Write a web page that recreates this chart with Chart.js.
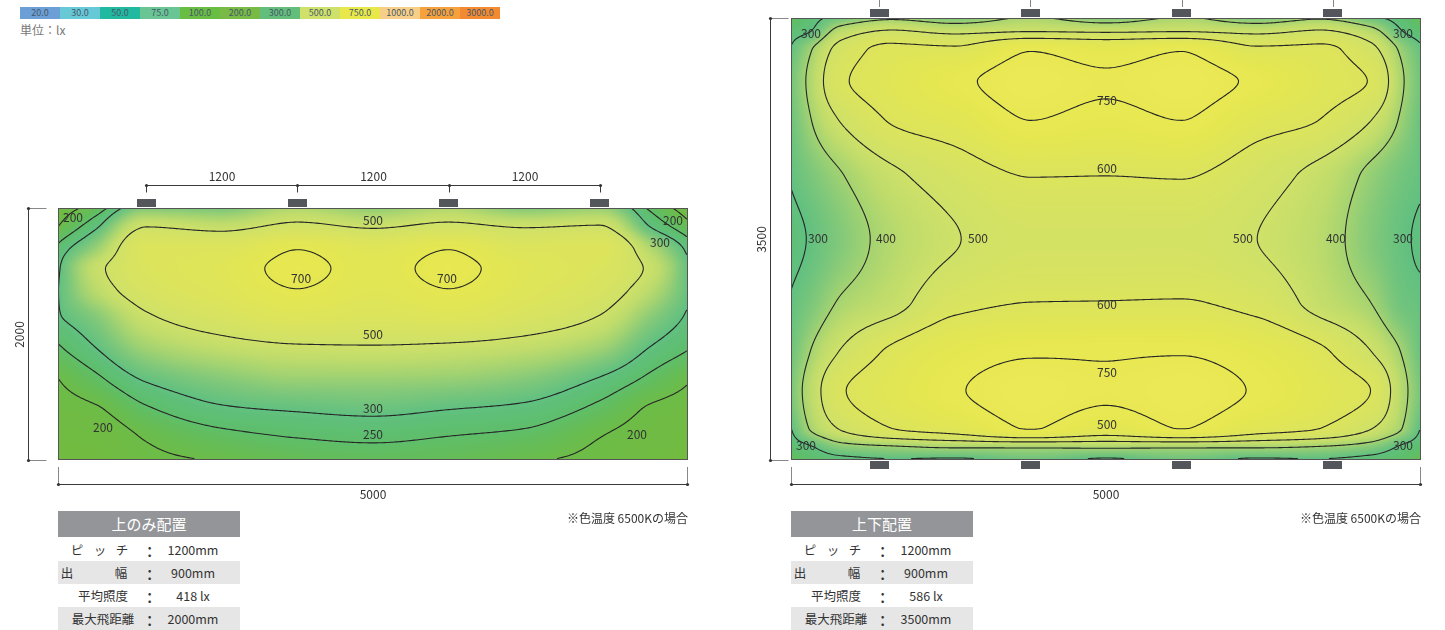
<!DOCTYPE html>
<html><head><meta charset="utf-8">
<script src="https://cdn.jsdelivr.net/npm/chart.js"></script>
<style>
body{margin:0;background:#fff;width:1445px;height:630px;overflow:hidden;position:relative;font-family:"Noto Sans CJK JP","Noto Sans",sans-serif;color:#333;}
.abs{position:absolute;}
canvas{position:absolute;}
.lg{width:40px;height:12px;font-size:9px;line-height:12px;text-align:center;color:#44586a;}
.th{position:absolute;width:182px;height:26px;background:#939598;color:#fff;font-size:15px;line-height:26px;text-align:center;}
.tr{position:absolute;width:182px;height:23px;font-size:12.5px;line-height:23px;}
.tr span{position:absolute;white-space:nowrap;top:0;}
.note{position:absolute;font-size:12px;white-space:nowrap;}
</style></head><body>
<div id="legend" class="abs" style="left:20px;top:7px;display:flex"></div>
<div class="abs" style="left:20px;top:21px;font-size:12px;color:#777">単位：lx</div>
<canvas id="cA" style="left:0;top:150px" width="720" height="360"></canvas>
<canvas id="cB" style="left:735px;top:0" width="710" height="510"></canvas>
<div id="tabA"></div><div id="tabB"></div>
<div class="note" style="right:757px;top:509px">※色温度 6500Kの場合</div>
<div class="note" style="right:24px;top:509px">※色温度 6500Kの場合</div>
<script>
// ---------- data ----------
const legendLabels = ['20.0','30.0','50.0','75.0','100.0','200.0','300.0','500.0','750.0','1000.0','2000.0','3000.0'];
const legendColors = ['#6c9fd6','#67c8d6','#21b9a0','#69c593','#6abd43','#78ba45','#64be7b','#cfe16b','#e9e84b','#f7cf88','#f7a13c','#f38a32'];

const roomW = 5000;
const roomDA = 2000, roomDB = 3500;
const lumX = [700, 1900, 3100, 4300];

// Chart A (上のみ配置): illuminance grid (lx), rows = gridYA, cols = gridXA
const gridXA = [0, 300, 700, 1300, 1900, 2500, 3100, 3700, 4300, 4700, 5000];
const gridYA = [0, 150, 330, 480, 650, 850, 1100, 1350, 1600, 1800, 2000];
const illumA = [
  [175, 222, 350, 340, 420, 370, 420, 350, 380, 240, 175],
  [200, 290, 500, 470, 530, 490, 530, 495, 510, 300, 215],
  [265, 390, 600, 610, 700, 640, 700, 610, 610, 430, 285],
  [290, 470, 590, 645, 725, 665, 725, 645, 590, 480, 310],
  [298, 440, 560, 630, 698, 650, 698, 630, 560, 440, 310],
  [295, 360, 490, 570, 630, 600, 630, 575, 500, 370, 292],
  [245, 302, 400, 460, 490, 495, 485, 460, 400, 300, 255],
  [200, 240, 310, 360, 390, 390, 385, 360, 297, 240, 205],
  [185, 195, 242, 290, 305, 315, 300, 285, 235, 195, 185],
  [178, 180, 205, 238, 255, 262, 252, 240, 202, 185, 178],
  [172, 175, 190, 203, 220, 228, 222, 205, 190, 178, 172]
];
const levelsA = [200, 250, 300, 500, 700];

// Chart B (上下配置)
const gridXB = [0, 150, 400, 800, 1300, 1900, 2500, 3100, 3700, 4200, 4600, 4850, 5000];
const gridYB = [0, 100, 250, 500, 800, 1250, 1750, 2250, 2650, 2950, 3250, 3400, 3500];
const illumB = [
  [220, 270, 330, 385, 345, 410, 350, 410, 345, 390, 320, 265, 215],
  [265, 295, 440, 505, 470, 490, 480, 490, 470, 505, 430, 300, 255],
  [305, 390, 540, 625, 620, 745, 700, 745, 620, 620, 530, 380, 310],
  [330, 420, 585, 650, 725, 790, 762, 790, 730, 640, 595, 410, 325],
  [320, 395, 510, 610, 660, 752, 722, 752, 650, 600, 505, 385, 315],
  [305, 340, 395, 480, 545, 602, 600, 605, 540, 470, 380, 330, 308],
  [280, 305, 355, 430, 495, 540, 540, 540, 500, 440, 355, 310, 290],
  [305, 340, 410, 465, 570, 600, 602, 605, 565, 465, 400, 325, 310],
  [320, 400, 510, 620, 700, 740, 742, 745, 700, 620, 505, 395, 315],
  [340, 440, 590, 660, 740, 790, 765, 790, 740, 660, 600, 430, 335],
  [298, 405, 510, 600, 650, 755, 675, 752, 650, 600, 505, 400, 295],
  [260, 290, 360, 385, 405, 405, 410, 405, 405, 390, 355, 285, 255],
  [220, 250, 270, 290, 280, 320, 280, 320, 280, 290, 265, 245, 215]
];
const levelsB = [300, 400, 500, 600, 750];

// contour label texts with their placement (mm)
const contourLabelsA = [['200',119,71],['500',2500,95],['200',4881,95],['300',4778,270],['700',1929,556],['700',3087,556],['500',2500,1000],['300',2500,1587],['250',2500,1794],['200',357,1738],['200',4595,1794]];
const contourLabelsB = [['300',159,119],['300',4857,119],['750',2508,649],['600',2508,1188],['300',214,1742],['400',754,1742],['500',1484,1742],['500',3587,1742],['400',4325,1742],['300',4857,1742],['600',2508,2272],['750',2508,2803],['500',2508,3215],['300',119,3381],['300',4857,3381]];

const tableTitleA = '上のみ配置', tableTitleB = '上下配置';
const tableKeys = [['ピ','ッ','チ'], ['出','幅'], ['平均照度'], ['最大飛距離']];
const tableValsA = ['1200mm', '900mm', '418 lx', '2000mm'];
const tableValsB = ['1200mm', '900mm', '586 lx', '3500mm'];

// ---------- helpers ----------
const FONT = '"Noto Sans CJK JP","Noto Sans",sans-serif';
const lg = document.getElementById('legend');
legendLabels.forEach((t,i)=>{const d=document.createElement('div');d.className='lg';d.style.background=legendColors[i];d.textContent=t;lg.appendChild(d);});

function buildTable(el, left, title, vals){
  const keyPos = [[19, 42, 64], [9, 63], [45], [45]];
  let h = `<div class="th" style="left:${left}px;top:511px">${title}</div>`;
  vals.forEach((v,i)=>{
    const bg = (i%2===1)?'#e6e6e6':'#fff';
    let keys = '';
    tableKeys[i].forEach((k,q)=>{ keys += `<span style="left:${keyPos[i][q]-40}px;width:80px;text-align:center">${k}</span>`; });
    h += `<div class="tr" style="left:${left}px;top:${538+i*23}px;background:${bg}">${keys}<span style="left:89px;font-size:19px;line-height:21px">:</span><span style="left:100px;width:70px;text-align:center">${v}</span></div>`;
  });
  el.innerHTML = h;
}
buildTable(document.getElementById('tabA'), 58, tableTitleA, tableValsA);
buildTable(document.getElementById('tabB'), 791, tableTitleB, tableValsB);

function tangent(xs, vs, k){
  const n = xs.length;
  if (k === 0) return (vs[1]-vs[0])/(xs[1]-xs[0]);
  if (k === n-1) return (vs[n-1]-vs[n-2])/(xs[n-1]-xs[n-2]);
  const h0 = xs[k]-xs[k-1], h1 = xs[k+1]-xs[k];
  const d0 = (vs[k]-vs[k-1])/h0, d1 = (vs[k+1]-vs[k])/h1;
  if (d0*d1 <= 0) return 0;
  const w1 = 2*h1+h0, w2 = h1+2*h0;
  return (w1+w2)/(w1/d0 + w2/d1);
}
function pchip(xs, vs, x){
  const n = xs.length;
  if (x <= xs[0]) return vs[0];
  if (x >= xs[n-1]) return vs[n-1];
  let k = 0; while (k < n-2 && x > xs[k+1]) k++;
  const h = xs[k+1]-xs[k], t = (x-xs[k])/h;
  const m0 = tangent(xs,vs,k), m1 = tangent(xs,vs,k+1);
  const t2=t*t, t3=t2*t;
  return (2*t3-3*t2+1)*vs[k] + (t3-2*t2+t)*h*m0 + (-2*t3+3*t2)*vs[k+1] + (t3-t2)*h*m1;
}
const stops = [[150,[118,186,58]],[200,[108,188,72]],[250,[94,190,106]],[300,[96,192,128]],[350,[128,200,122]],[400,[164,211,113]],[450,[192,220,107]],[500,[207,225,104]],[600,[220,228,92]],[700,[229,231,80]],[800,[236,233,86]]];
const LUT = [];
for (let v=0; v<=1000; v++){
  let c;
  if (v <= stops[0][0]) c = stops[0][1];
  else if (v >= stops[stops.length-1][0]) c = stops[stops.length-1][1];
  else { let i=0; while (v > stops[i+1][0]) i++;
    const t=(v-stops[i][0])/(stops[i+1][0]-stops[i][0]);
    c = [0,1,2].map(q=>stops[i][1][q]+(stops[i+1][1][q]-stops[i][1][q])*t); }
  LUT.push(c);
}
function contourPaths(F, W, H, s, L){
  const nx = Math.floor((W-1)/s), ny = Math.floor((H-1)/s);
  const pts = new Map(), adj = new Map();
  const hk = (j,i)=>(j*(nx+1)+i)*2, vk = (j,i)=>(j*(nx+1)+i)*2+1;
  function link(k1,p1,k2,p2){
    pts.set(k1,p1); pts.set(k2,p2);
    if(!adj.has(k1)) adj.set(k1,[]); if(!adj.has(k2)) adj.set(k2,[]);
    adj.get(k1).push(k2); adj.get(k2).push(k1);
  }
  for (let j=0;j<ny;j++) for (let i=0;i<nx;i++){
    const x0=i*s, y0=j*s, x1=x0+s, y1=y0+s;
    const a=F[y0*W+x0], b=F[y0*W+x1], c=F[y1*W+x1], d=F[y1*W+x0];
    const idx=(a>L?8:0)|(b>L?4:0)|(c>L?2:0)|(d>L?1:0);
    if (idx===0||idx===15) continue;
    const E = {
      T:[hk(j,i),   ()=>[x0+s*(L-a)/(b-a), y0]],
      B:[hk(j+1,i), ()=>[x0+s*(L-d)/(c-d), y1]],
      Lf:[vk(j,i),  ()=>[x0, y0+s*(L-a)/(d-a)]],
      R:[vk(j,i+1), ()=>[x1, y0+s*(L-b)/(c-b)]]
    };
    const pairs=[];
    switch(idx){
      case 1: case 14: pairs.push(['Lf','B']); break;
      case 2: case 13: pairs.push(['B','R']); break;
      case 3: case 12: pairs.push(['Lf','R']); break;
      case 4: case 11: pairs.push(['T','R']); break;
      case 6: case 9: pairs.push(['T','B']); break;
      case 7: case 8: pairs.push(['Lf','T']); break;
      case 5: case 10: {
        const cen=(a+b+c+d)/4;
        if ((idx===5) === (cen>L)) { pairs.push(['Lf','T']); pairs.push(['B','R']); }
        else { pairs.push(['Lf','B']); pairs.push(['T','R']); }
        break; }
    }
    pairs.forEach(p=>link(E[p[0]][0],E[p[0]][1](),E[p[1]][0],E[p[1]][1]()));
  }
  const used=new Set(), paths=[];
  function walk(start){
    const path=[pts.get(start)]; used.add(start); let cur=start;
    for(;;){ const nb=adj.get(cur).filter(n=>!used.has(n)); if(!nb.length) break;
      cur=nb[0]; used.add(cur); path.push(pts.get(cur)); }
    return path;
  }
  for (const [k,n] of adj) if (n.length===1 && !used.has(k)) paths.push(walk(k));
  for (const k of adj.keys()) if (!used.has(k)) { const p=walk(k); p.push(p[0]); paths.push(p); }
  return paths;
}
function heatPlugin(gx, gy, grid, levels, labels){
  return { id:'heat', beforeDatasetsDraw(chart){
    const ctx=chart.ctx, ca=chart.chartArea, sx=chart.scales.x, sy=chart.scales.y;
    const L=Math.round(ca.left), T=Math.round(ca.top), W=Math.round(ca.right)-L, H=Math.round(ca.bottom)-T;
    const F=new Float32Array(W*H), colVals=new Array(gy.length);
    for (let i=0;i<W;i++){
      const xm=sx.getValueForPixel(L+i+0.5);
      for (let j=0;j<gy.length;j++) colVals[j]=pchip(gx,grid[j],xm);
      for (let k=0;k<H;k++){ F[k*W+i]=pchip(gy,colVals,sy.getValueForPixel(T+k+0.5)); }
    }
    const off=document.createElement('canvas'); off.width=W; off.height=H;
    const octx=off.getContext('2d'), img=octx.createImageData(W,H);
    for (let p=0;p<W*H;p++){ const c=LUT[Math.max(0,Math.min(1000,Math.round(F[p])))];
      img.data[p*4]=c[0]; img.data[p*4+1]=c[1]; img.data[p*4+2]=c[2]; img.data[p*4+3]=255; }
    octx.putImageData(img,0,0);
    ctx.drawImage(off,L,T);
    ctx.save();
    ctx.beginPath(); ctx.rect(L,T,W,H); ctx.clip();
    ctx.strokeStyle='#262626'; ctx.lineWidth=1.1; ctx.lineJoin='round'; ctx.lineCap='round';
    levels.forEach(lv=>{
      const paths=contourPaths(F,W,H,2,lv);
      ctx.beginPath();
      paths.forEach(p=>{ ctx.moveTo(L+p[0][0]+0.5,T+p[0][1]+0.5);
        for (let q=1;q<p.length;q++) ctx.lineTo(L+p[q][0]+0.5,T+p[q][1]+0.5); });
      ctx.stroke(); });
    ctx.fillStyle='#333'; ctx.font='12px '+FONT; ctx.textAlign='center'; ctx.textBaseline='middle';
    labels.forEach(l=>ctx.fillText(l[0], sx.getPixelForValue(l[1]), sy.getPixelForValue(l[2])));
    ctx.restore();
    ctx.save(); ctx.strokeStyle='#555'; ctx.lineWidth=1;
    ctx.strokeRect(L+0.5,T+0.5,W-1,H-1); ctx.restore();
  }};
}
function lumImage(top){
  const c=document.createElement('canvas'); c.width=19; c.height=18;
  const g=c.getContext('2d'); g.fillStyle='#53575b';
  g.fillRect(0, top?0:10, 19, 8); return c;
}
function dot(ctx,x,y){ctx.beginPath();ctx.arc(x,y,1.6,0,Math.PI*2);ctx.fill();}
function dimPlugin(which, depth){
  return { id:'dims', afterDraw(chart){
    const ctx=chart.ctx, ca=chart.chartArea, sx=chart.scales.x, sy=chart.scales.y;
    ctx.save(); ctx.strokeStyle='#3a3a3a'; ctx.fillStyle='#333'; ctx.lineWidth=1;
    ctx.font='12px '+FONT; ctx.textAlign='center'; ctx.textBaseline='middle';
    const px = lumX.map(v=>Math.round(sx.getPixelForValue(v))+0.5);
    if (which==='A'){
      const y=Math.round(ca.top)-23+0.5;
      ctx.beginPath(); ctx.moveTo(px[0],y); ctx.lineTo(px[px.length-1],y);
      px.forEach(x=>{ctx.moveTo(x,y);ctx.lineTo(x,y+7);}); ctx.stroke();
      px.forEach(x=>dot(ctx,x,y));
      for (let i=0;i<lumX.length-1;i++) ctx.fillText(String(lumX[i+1]-lumX[i]), (px[i]+px[i+1])/2, y-9);
    } else {
      ctx.strokeStyle='#888';
      ctx.beginPath(); px.forEach(x=>{ctx.moveTo(x,0);ctx.lineTo(x,7);}); ctx.stroke();
      ctx.strokeStyle='#3a3a3a';
    }
    const lx = Math.round(ca.left) - (which==='A'?30:21) + 0.5;
    const t = Math.round(sy.getPixelForValue(0))+0.5, b = Math.round(sy.getPixelForValue(depth))+0.5;
    ctx.beginPath(); ctx.moveTo(lx,t); ctx.lineTo(lx,b); ctx.stroke();
    ctx.strokeStyle='#888'; ctx.beginPath();
    ctx.moveTo(lx,t); ctx.lineTo(lx+18,t); ctx.moveTo(lx,b); ctx.lineTo(lx+18,b); ctx.stroke();
    dot(ctx,lx,t); dot(ctx,lx,b);
    ctx.save(); ctx.translate(lx-9,(t+b)/2); ctx.rotate(-Math.PI/2); ctx.fillText(String(depth),0,0); ctx.restore();
    const by = Math.round(ca.bottom)+24+0.5;
    const l = Math.round(sx.getPixelForValue(0))+0.5, r = Math.round(sx.getPixelForValue(roomW))-0.5;
    ctx.strokeStyle='#3a3a3a';
    ctx.beginPath(); ctx.moveTo(l,by); ctx.lineTo(r,by); ctx.stroke();
    ctx.strokeStyle='#888'; ctx.beginPath();
    ctx.moveTo(l,Math.round(ca.bottom)+7); ctx.lineTo(l,by); ctx.moveTo(r,Math.round(ca.bottom)+7); ctx.lineTo(r,by); ctx.stroke();
    dot(ctx,l,by); dot(ctx,r,by);
    ctx.fillText(String(roomW),(l+r)/2,by+10);
    ctx.restore();
  }};
}
function makeChart(id, depth, gx, gy, grid, levels, labels, pad, which, datasets){
  return new Chart(document.getElementById(id), {
    type:'scatter',
    data:{datasets},
    options:{responsive:false, animation:false, events:[],
      layout:{padding:pad},
      scales:{x:{type:'linear',min:0,max:roomW,display:false}, y:{type:'linear',min:0,max:depth,reverse:true,display:false}},
      plugins:{legend:{display:false},tooltip:{enabled:false}}},
    plugins:[heatPlugin(gx,gy,grid,levels,labels), dimPlugin(which, depth)]
  });
}
const topImg = lumImage(true), botImg = lumImage(false);
makeChart('cA', roomDA, gridXA, gridYA, illumA, levelsA, contourLabelsA, {left:58,top:58,right:32,bottom:50}, 'A',
  [{data:lumX.map(x=>({x, y:0})), pointStyle:topImg, clip:false}]);
makeChart('cB', roomDB, gridXB, gridYB, illumB, levelsB, contourLabelsB, {left:56,top:18,right:24,bottom:50}, 'B',
  [{data:lumX.map(x=>({x, y:0})), pointStyle:topImg, clip:false},
   {data:lumX.map(x=>({x, y:roomDB})), pointStyle:botImg, clip:false}]);
</script>
</body></html>
